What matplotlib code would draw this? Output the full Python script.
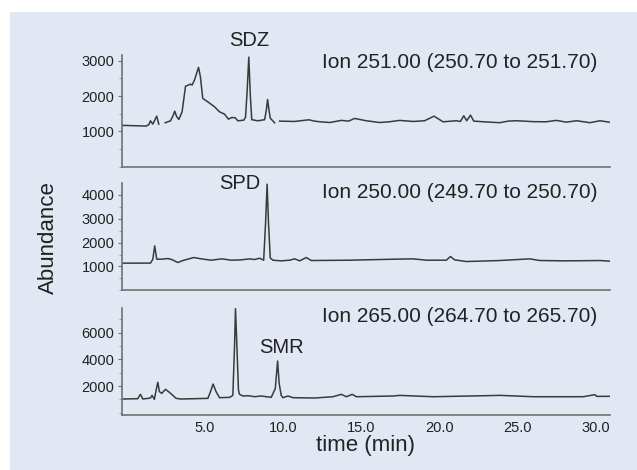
import numpy as np
import matplotlib
matplotlib.use("Agg")
from matplotlib import pyplot as plt
from matplotlib.patches import Rectangle
from matplotlib.ticker import MultipleLocator

plt.rcParams['font.family'] = ['Liberation Sans', 'DejaVu Sans']

nan = np.nan

# ---------------- Ion 251 (SDZ)
t_251 = [-0.3, 1.27, 1.45, 1.55, 1.70, 1.95, 2.08, nan, 2.49, 2.83, 3.00, 3.10, 3.22, 3.36, 3.57,
         3.79, 3.98, 4.10, 4.21, 4.36, 4.62, 4.74, 4.89, 5.21, 5.64, 5.96, 6.28, 6.53, 6.75,
         6.96, 7.13, 7.51, 7.62, 7.72, 7.83, 7.93, 8.02, 8.41, 8.84, 8.95, 9.03, 9.12, 9.20,
         9.48, nan, 9.80, 10.75, 11.67, 12.03, 12.4, 13.0, 13.74, 14.2, 14.59, 15.33, 16.19,
         16.8, 17.47, 18.32, 19.06, 19.66, 20.24, 21.09, 21.35, 21.56, 21.75, 21.99, 22.2,
         23.0, 23.86, 24.4, 24.93, 25.99, 26.8, 27.49, 28.1, 28.77, 29.62, 30.26, 30.85]
a_251 = [1170, 1150, 1190, 1298, 1204, 1431, 1204, nan, 1242, 1298, 1450, 1572, 1420, 1336, 1553,
         2280, 2309, 2337, 2309, 2450, 2809, 2545, 1931, 1836, 1695, 1553, 1487, 1346, 1393,
         1384, 1298, 1317, 1400, 2100, 3100, 2000, 1330, 1298, 1330, 1600, 1903, 1600, 1374,
         1242, nan, 1289, 1280, 1327, 1289, 1270, 1250, 1310, 1290, 1365, 1300, 1250,
         1270, 1310, 1280, 1300, 1430, 1270, 1300, 1280, 1440, 1300, 1459, 1290,
         1265, 1245, 1290, 1300, 1275, 1270, 1310, 1260, 1300, 1245, 1300, 1260]

# ---------------- Ion 250 (SPD)
t_250 = [-0.3, 1.55, 1.70, 1.82, 1.95, 2.23, 2.66, 2.91, 3.30, 3.62, 4.32, 4.79, 5.43, 6.11,
         6.71, 7.35, 7.88, 8.20, 8.52, 8.78, 8.90, 9.00, 9.09, 9.20, 9.37, 9.90, 10.44, 10.76,
         11.08, 11.50, 11.82, 14.27, 17.15, 18.32, 19.17, 20.45, 20.71, 20.98, 21.73, 23.86,
         25.78, 26.42, 28.13, 30.26, 30.9]
a_250 = [1137, 1140, 1300, 1862, 1304, 1304, 1332, 1290, 1165, 1248, 1374, 1318, 1262, 1318,
         1262, 1276, 1318, 1290, 1346, 1262, 2800, 4450, 2800, 1360, 1262, 1234, 1262, 1318,
         1234, 1374, 1248, 1262, 1304, 1318, 1262, 1262, 1416, 1276, 1206, 1248,
         1318, 1248, 1234, 1248, 1220]

# ---------------- Ion 265 (SMR)
t_265 = [-0.3, 0.73, 0.91, 1.06, 1.55, 1.65, 1.80, 1.92, 2.02, 2.12, 2.27, 2.51, 2.76, 3.19,
         3.51, 5.22, 5.39, 5.55, 5.74, 5.96, 6.60, 6.81, 6.92, 6.98, 7.07, 7.17, 7.24, 7.45,
         7.77, 8.20, 8.62, 9.26, 9.52, 9.67, 9.77, 9.90, 10.01, 10.33, 10.65, 12.03, 13.2,
         13.74, 14.06, 14.44, 14.70, 17.04, 17.47, 19.6, 23.01, 23.86, 25.99, 29.19, 29.94,
         30.04, 30.85]
a_265 = [1028, 1050, 1378, 1030, 1100, 1303, 1003, 1750, 2277, 1580, 1450, 1753, 1530, 1078,
         1028, 1078, 1600, 2152, 1580, 1128, 1150, 1300, 5000, 7800, 5000, 1700, 1378, 1253,
         1278, 1203, 1253, 1153, 1800, 3875, 2200, 1300, 1128, 1253, 1128, 1103, 1200,
         1378, 1200, 1378, 1200, 1253, 1300, 1200, 1278, 1303, 1200, 1200, 1353,
         1228, 1228]

xticks = [5, 10, 15, 20, 25, 30]
xlabels = ['5.0', '10.0', '15.0', '20.0', '25.0', '30.0']

fig = plt.figure(figsize=(6.37, 4.70), dpi=100)
fig.patch.set_facecolor('white')
fig.patches.append(Rectangle((10 / 637, 0), 1, 1 - 12 / 470, transform=fig.transFigure,
                             facecolor='#e1e8f3', edgecolor='none', zorder=-10))

left, width = 121.5 / 637, (610 - 121.5) / 637
panels = [
    (t_251, a_251, 55, 166.7, (0, 3160), [1000, 2000, 3000], 500),
    (t_250, a_250, 183.3, 290.3, (0, 4485), [1000, 2000, 3000, 4000], 500),
    (t_265, a_265, 308, 415, (-170, 7850), [2000, 4000, 6000], 1000),
]
axes = []
for t, a, top, bot, ylim, yt, minor in panels:
    ax = fig.add_axes([left, 1 - bot / 470, width, (bot - top) / 470])
    ax.set_facecolor('none')
    ax.plot(t, a, color='#3a3a3a', lw=1.1)
    ax.set_xlim(-0.3, 30.9)
    ax.set_ylim(*ylim)
    ax.set_yticks(yt)
    ax.yaxis.set_minor_locator(MultipleLocator(minor))
    for s in ['top', 'right']:
        ax.spines[s].set_visible(False)
    for s in ['left', 'bottom']:
        ax.spines[s].set_color('#707070')
        ax.spines[s].set_linewidth(1.2)
    ax.tick_params(axis='y', which='major', length=3, width=0.8, color='#707070',
                   labelsize=10.5, labelcolor='#222222', pad=2)
    ax.tick_params(axis='y', which='minor', length=2, width=0.6, color='#909090')
    ax.set_xticks(xticks)
    ax.tick_params(axis='x', length=0, labelsize=10.5, labelcolor='#222222', pad=4)
    ax.set_xticklabels(xlabels)
    axes.append(ax)

axes[0].tick_params(axis='x', labelbottom=False)
axes[1].tick_params(axis='x', labelbottom=False)

# peak labels
axes[0].text(7.88, 3584, 'SDZ', ha='center', va='center', fontsize=14.5, color='#222222', clip_on=False)
axes[1].text(7.24, 4456, 'SPD', ha='center', va='center', fontsize=14.5, color='#222222', clip_on=False)
axes[2].text(9.92, 4854, 'SMR', ha='center', va='center', fontsize=14.5, color='#222222', clip_on=False)

ions = ['Ion 251.00 (250.70 to 251.70)', 'Ion 250.00 (249.70 to 250.70)',
        'Ion 265.00 (264.70 to 265.70)']
for lab, yp in zip(ions, [63, 193, 317]):
    fig.text(597 / 637, 1 - yp / 470, lab, ha='right', va='center', fontsize=15, color='#222222')

fig.text(48 / 637, 1 - 237.5 / 470, 'Abundance', rotation=90, ha='center', va='center',
         fontsize=16, color='#222222')
fig.text(366 / 637, 1 - 445 / 470, 'time (min)', ha='center', va='center', fontsize=16,
         color='#222222')

fig.savefig('out.png', dpi=100)
